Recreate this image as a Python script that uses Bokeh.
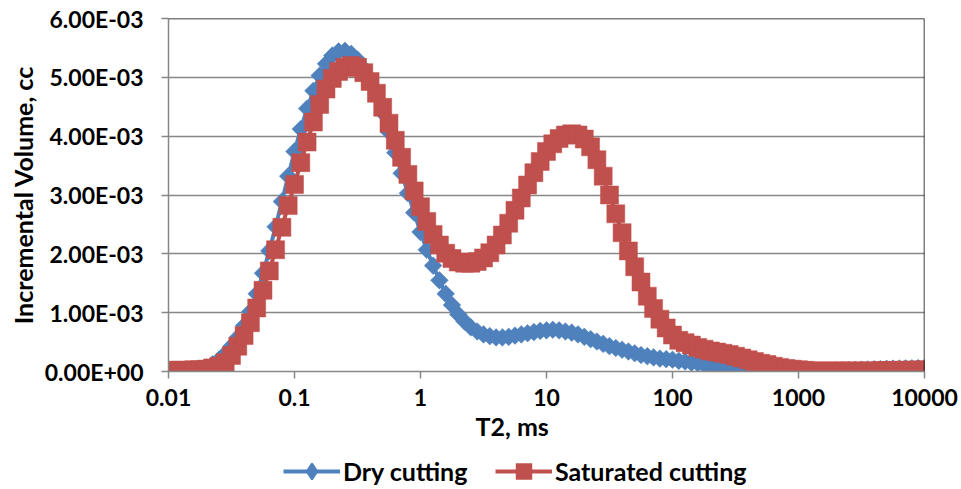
from bokeh.plotting import figure
from bokeh.layouts import column
from bokeh.models import FixedTicker, Legend, LegendItem, Title, Span
from bokeh.embed import file_html
from bokeh.resources import INLINE

# T2 grid: 20 bins per decade from 0.01 ms to 10000 ms
decades = [0.01, 0.1, 1, 10, 100, 1000]
bin_steps = [1.00, 1.122, 1.259, 1.413, 1.585, 1.778, 1.995, 2.239, 2.512, 2.818,
             3.162, 3.548, 3.981, 4.467, 5.012, 5.623, 6.310, 7.079, 7.943, 8.913]
t2_ms = [d * m for d in decades for m in bin_steps] + [10000]

# Incremental volume, in units of 1e-3 cc
dry_milli = [
    0.00, 0.00, 0.005, 0.01, 0.02, 0.04, 0.07, 0.12, 0.20, 0.30,
    0.43, 0.58, 0.78, 1.02, 1.32, 1.67, 2.05, 2.46, 2.89, 3.32,
    3.74, 4.12, 4.47, 4.77, 5.03, 5.23, 5.37, 5.44, 5.45, 5.40,
    5.30, 5.15, 4.97, 4.72, 4.40, 4.07, 3.72, 3.37, 3.03, 2.70,
    2.37, 2.07, 1.80, 1.55, 1.32, 1.13, 0.97, 0.85, 0.75, 0.68,
    0.63, 0.60, 0.58, 0.58, 0.59, 0.61, 0.63, 0.65, 0.67, 0.69,
    0.70, 0.71, 0.70, 0.68, 0.66, 0.63, 0.59, 0.55, 0.51, 0.47,
    0.43, 0.40, 0.37, 0.34, 0.31, 0.28, 0.26, 0.24, 0.22, 0.21,
    0.20, 0.18, 0.17, 0.15, 0.14, 0.12, 0.11, 0.10, 0.08, 0.07,
    0.06, 0.05, 0.04, 0.035, 0.03, 0.025, 0.02, 0.015, 0.01, 0.005,
    0.003, 0.002, 0.002, 0.003, 0.005, 0.008, 0.012, 0.016, 0.02, 0.025,
    0.03, 0.034, 0.038, 0.042, 0.045, 0.048, 0.05, 0.052, 0.054, 0.056,
    0.058,
]
sat_milli = [
    0.02, 0.02, 0.02, 0.02, 0.03, 0.03, 0.04, 0.06, 0.09, 0.15,
    0.27, 0.43, 0.61, 0.83, 1.08, 1.38, 1.71, 2.07, 2.45, 2.82,
    3.18, 3.55, 3.90, 4.24, 4.54, 4.80, 4.98, 5.10, 5.17, 5.20,
    5.17, 5.08, 4.93, 4.73, 4.49, 4.22, 3.93, 3.64, 3.35, 3.07,
    2.80, 2.55, 2.33, 2.15, 2.01, 1.92, 1.86, 1.84, 1.84, 1.87,
    1.93, 2.02, 2.15, 2.32, 2.52, 2.74, 2.95, 3.17, 3.38, 3.57,
    3.74, 3.87, 3.96, 4.02, 4.04, 4.02, 3.95, 3.82, 3.60, 3.32,
    3.00, 2.68, 2.36, 2.05, 1.78, 1.52, 1.28, 1.07, 0.89, 0.74,
    0.62, 0.53, 0.49, 0.45, 0.41, 0.38, 0.35, 0.33, 0.31, 0.29,
    0.26, 0.23, 0.20, 0.17, 0.14, 0.12, 0.09, 0.07, 0.05, 0.04,
    0.03, 0.02, 0.01, 0.01, 0.01, 0.01, 0.01, 0.01, 0.01, 0.01,
    0.01, 0.01, 0.01, 0.015, 0.015, 0.02, 0.02, 0.02, 0.025, 0.025,
    0.03,
]
dry_cc = [v * 1e-3 for v in dry_milli]
sat_cc = [v * 1e-3 for v in sat_milli]

series_names = ["Dry cutting", "Saturated cutting"]
x_ticks = [0.01, 0.1, 1, 10, 100, 1000, 10000]
x_tick_labels = ["0.01", "0.1", "1", "10", "100", "1000", "10000"]
y_ticks = [0.0, 0.001, 0.002, 0.003, 0.004, 0.005, 0.006]
y_tick_labels = ["0.00E+00", "1.00E-03", "2.00E-03", "3.00E-03", "4.00E-03", "5.00E-03", "6.00E-03"]

BLUE = "#4F81BD"
RED = "#C0504D"
GRID = "#878787"
FONT = "Lato"

p = figure(width=961, height=448, x_axis_type="log",
           x_range=(0.01, 10000), y_range=(0, 0.006),
           output_backend="svg", toolbar_location=None,
           min_border_left=168, min_border_right=37,
           min_border_top=18, min_border_bottom=77)
p.outline_line_color = None
p.background_fill_color = "white"
p.border_fill_color = "white"

p.xgrid.grid_line_color = None
p.ygrid.grid_line_color = GRID
p.ygrid.grid_line_width = 1.5
p.ygrid.ticker = FixedTicker(ticks=y_ticks)

for ax in (p.xaxis[0], p.yaxis[0]):
    ax.axis_line_color = GRID
    ax.axis_line_width = 1.5
    ax.major_tick_line_color = GRID
    ax.major_tick_line_width = 1.5
    ax.major_tick_out = 7
    ax.major_tick_in = 0
    ax.minor_tick_line_color = None
    ax.major_label_text_font = FONT
    ax.major_label_text_font_style = "bold"
    ax.major_label_text_font_size = "23px"
    ax.major_label_text_color = "black"
    ax.axis_label_text_font = FONT
    ax.axis_label_text_font_style = "bold"
    ax.axis_label_text_font_size = "25px"
    ax.axis_label_text_color = "black"

p.xaxis.ticker = FixedTicker(ticks=x_ticks)
p.xaxis.major_label_overrides = dict(zip(x_ticks, x_tick_labels))
p.xaxis.major_label_standoff = 10

p.yaxis.ticker = FixedTicker(ticks=y_ticks)
p.yaxis.major_label_overrides = dict(zip(y_ticks, y_tick_labels))
p.yaxis.major_label_standoff = 18
p.yaxis.axis_label = "Incremental Volume, cc"
p.yaxis.axis_label_standoff = 4

xt = Title(text="T2, ms", align="left", offset=307, standoff=0,
           text_font=FONT, text_font_style="bold", text_font_size="25px",
           text_color="black")
p.add_layout(xt, "below")

# black top and right borders (Excel style)
p.add_layout(Span(location=0.006, dimension="width", line_color="black", line_width=1.5))
p.add_layout(Span(location=10000, dimension="height", line_color="black", line_width=1.5))

def draw_series(fig, legend_strip=False):
    l1 = fig.line(t2_ms, dry_cc, line_color=BLUE, line_width=4)
    if legend_strip:
        m1 = fig.scatter(t2_ms, dry_cc, marker="diamond", size=12.5,
                         fill_color=BLUE, line_color=BLUE, line_width=2)
    else:
        m1 = fig.scatter(t2_ms, dry_cc, marker="square", angle=0.7853981634, size=12.5,
                         fill_color=BLUE, line_color=BLUE, line_width=0.5)
    l2 = fig.line(t2_ms, sat_cc, line_color=RED, line_width=4)
    m2 = fig.scatter(t2_ms, sat_cc, marker="square", size=18,
                     fill_color=RED, line_color=RED, line_width=0.5)
    return (l1, m1), (l2, m2)

draw_series(p)

# Legend strip below the chart (its own series copies sit outside its view)
lg = figure(width=961, height=41, x_range=(0, 1), y_range=(1, 2),
            output_backend="svg", toolbar_location=None,
            x_axis_location=None, y_axis_location=None,
            min_border_left=0, min_border_right=0,
            min_border_top=0, min_border_bottom=0)
lg.grid.visible = False
lg.outline_line_color = None
lg.background_fill_color = "white"
lg.border_fill_color = "white"
(a1, b1), (a2, b2) = draw_series(lg, legend_strip=True)

legend_style = dict(orientation="horizontal", glyph_width=57, label_standoff=3,
                    padding=0, margin=0, border_line_color=None,
                    background_fill_alpha=0,
                    label_text_font=FONT, label_text_font_style="bold",
                    label_text_font_size="25px", label_text_color="black")
leg_dry = Legend(items=[LegendItem(label=series_names[0], renderers=[a1, b1])],
                 location=(115, -2), glyph_height=40, **legend_style)
leg_sat = Legend(items=[LegendItem(label=series_names[1], renderers=[a2, b2])],
                 location=(327, -2), glyph_height=40, **legend_style)
lg.add_layout(leg_dry, "center")
lg.add_layout(leg_sat, "center")

layout = column(p, lg, spacing=0)
open("out.html", "w").write(file_html(layout, INLINE))
